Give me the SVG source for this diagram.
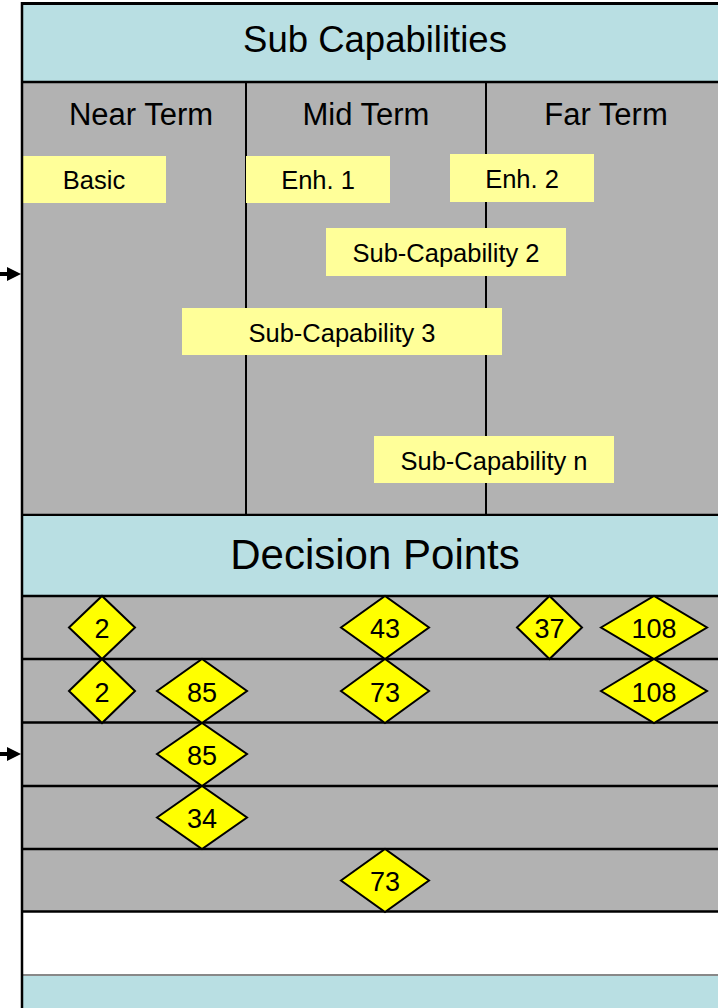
<svg xmlns="http://www.w3.org/2000/svg" width="718" height="1008" viewBox="0 0 718 1008">
<defs>
<style>
.hdr{fill:#B9DFE3}
.grey{fill:#B2B2B2}
.line{stroke:#000;stroke-width:2.5;fill:none}
.lbl{fill:#FFFF99}
.dia{fill:#FFFF00;stroke:#000;stroke-width:2}
text{font-family:"Liberation Sans",Arial,sans-serif;fill:#000;text-anchor:middle}
.t25{font-size:25.5px}
.t29{font-size:31px}
.t27{font-size:27px}
.arrow{fill:#000}
</style>
</defs>
<rect x="0" y="0" width="718" height="1008" fill="#fff"/>
<g id="sub-capabilities-header">
<rect class="hdr" x="22" y="4" width="700" height="78"/>
<text x="375" y="52" style="font-size:36.5px">Sub Capabilities</text>
</g>
<g id="timeline-area">
<rect class="grey" x="22" y="82" width="700" height="433"/>
<line class="line" x1="22" y1="82" x2="718" y2="82"/>
<line class="line" x1="246" y1="82" x2="246" y2="515" style="stroke-width:2"/>
<line class="line" x1="486" y1="82" x2="486" y2="515" style="stroke-width:2"/>
<line class="line" x1="22" y1="515" x2="718" y2="515"/>
<text class="t29" x="141" y="125">Near Term</text>
<text class="t29" x="366" y="125">Mid Term</text>
<text class="t29" x="606" y="125">Far Term</text>
</g>
<g id="basic"><rect class="lbl" x="22" y="156" width="144" height="47"/><text class="t25" x="94" y="189">Basic</text></g>
<g id="enh1"><rect class="lbl" x="246" y="156" width="144" height="47"/><text class="t25" x="318" y="189">Enh. 1</text></g>
<g id="enh2"><rect class="lbl" x="450" y="154" width="144" height="48"/><text class="t25" x="522" y="188">Enh. 2</text></g>
<g id="subcap2"><rect class="lbl" x="326" y="228" width="240" height="48"/><text class="t25" x="446" y="262">Sub-Capability 2</text></g>
<g id="subcap3"><rect class="lbl" x="182" y="308" width="320" height="47"/><text class="t25" x="342" y="342">Sub-Capability 3</text></g>
<g id="subcapn"><rect class="lbl" x="374" y="436" width="240" height="47"/><text class="t25" x="494" y="470">Sub-Capability n</text></g>
<g id="decision-points-header">
<rect class="hdr" x="22" y="516" width="700" height="80"/>
<text x="375" y="569" style="font-size:42px">Decision Points</text>
</g>
<g id="decision-rows">
<rect class="grey" x="22" y="596" width="700" height="316"/>
<rect fill="#fff" x="22" y="912" width="700" height="63"/>
<rect class="hdr" x="22" y="975" width="700" height="33"/>
<line class="line" x1="22" y1="596" x2="718" y2="596"/>
<line class="line" x1="22" y1="659" x2="718" y2="659"/>
<line class="line" x1="22" y1="722.5" x2="718" y2="722.5"/>
<line class="line" x1="22" y1="786" x2="718" y2="786"/>
<line class="line" x1="22" y1="849" x2="718" y2="849"/>
<line class="line" x1="22" y1="911.5" x2="718" y2="911.5"/>
<line x1="22" y1="975" x2="718" y2="975" stroke="#888" stroke-width="2"/>
</g>
<g id="dp-r1-2"><polygon class="dia" points="69,627.5 102,596 135,627.5 102,659"/><text class="t27" x="102" y="638">2</text></g>
<g id="dp-r1-43"><polygon class="dia" points="341,627.5 385,596 429,627.5 385,659"/><text class="t27" x="385" y="638">43</text></g>
<g id="dp-r1-37"><polygon class="dia" points="517,627.5 549.5,596 582,627.5 549.5,659"/><text class="t27" x="549.5" y="638">37</text></g>
<g id="dp-r1-108"><polygon class="dia" points="601,627.5 654,596 707,627.5 654,659"/><text class="t27" x="654" y="638">108</text></g>
<g id="dp-r2-2"><polygon class="dia" points="69,691 102,659 135,691 102,723"/><text class="t27" x="102" y="702">2</text></g>
<g id="dp-r2-85"><polygon class="dia" points="157,691 202,659 247,691 202,723"/><text class="t27" x="202" y="702">85</text></g>
<g id="dp-r2-73"><polygon class="dia" points="341,691 385,659 429,691 385,723"/><text class="t27" x="385" y="702">73</text></g>
<g id="dp-r2-108"><polygon class="dia" points="601,691 654,659 707,691 654,723"/><text class="t27" x="654" y="702">108</text></g>
<g id="dp-r3-85"><polygon class="dia" points="157,754 202,723 247,754 202,786"/><text class="t27" x="202" y="765">85</text></g>
<g id="dp-r4-34"><polygon class="dia" points="157,817.5 202,786 247,817.5 202,849"/><text class="t27" x="202" y="828">34</text></g>
<g id="dp-r5-73"><polygon class="dia" points="341,880.5 385,849 429,880.5 385,912"/><text class="t27" x="385" y="891">73</text></g>
<g id="frame">
<line class="line" x1="21" y1="3.5" x2="718" y2="3.5" style="stroke-width:3"/>
<line class="line" x1="22" y1="2" x2="22" y2="1008"/>
</g>
<g id="connectors">
<line x1="0" y1="274" x2="9" y2="274" stroke="#000" stroke-width="4"/>
<polygon class="arrow" points="7,267 21,274 7,281"/>
<line x1="0" y1="754" x2="9" y2="754" stroke="#000" stroke-width="4"/>
<polygon class="arrow" points="7,747 21,754 7,761"/>
</g>
</svg>
